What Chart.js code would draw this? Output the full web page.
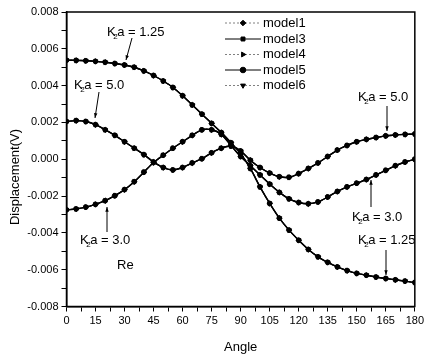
<!DOCTYPE html>
<html>
<head>
<meta charset="utf-8">
<script src="https://cdn.jsdelivr.net/npm/chart.js@4.4.0/dist/chart.umd.min.js"></script>
<style>
  html, body { margin: 0; padding: 0; background: #fff; }
  #wrap { width: 427px; height: 358px; }
</style>
</head>
<body>
<div id="wrap"><canvas id="dispChart" width="427" height="358"></canvas></div>
<script>
// Angle (deg) and displacement (V)
const angles = [0, 5, 10, 15, 20, 25, 30, 35, 40, 45, 50, 55, 60, 65, 70, 75, 80, 85, 90,
  95, 100, 105, 110, 115, 120, 125, 130, 135, 140, 145, 150, 155, 160, 165, 170, 175, 180];

const ka125 = [0.00538, 0.00537, 0.00535, 0.00532, 0.00527, 0.00520, 0.00512, 0.00500, 0.00480, 0.00455,
  0.00425, 0.00390, 0.00345, 0.00295, 0.00245, 0.00195, 0.00145, 0.00090, 0.00030,
  -0.00050, -0.00150, -0.00240, -0.00320, -0.00385, -0.00440, -0.00490, -0.00530, -0.00560,
  -0.00585, -0.00605, -0.00620, -0.00630, -0.00640, -0.00648, -0.00655, -0.00662, -0.00670];

const ka30 = [-0.00275, -0.00270, -0.00260, -0.00245, -0.00225, -0.00198, -0.00165, -0.00122, -0.00070, -0.00018,
  0.00022, 0.00060, 0.00095, 0.00130, 0.00160, 0.00160, 0.00135, 0.00075, 0.00015,
  -0.00035, -0.00085, -0.00135, -0.00180, -0.00215, -0.00235, -0.00242, -0.00232, -0.00205,
  -0.00175, -0.00150, -0.00130, -0.00110, -0.00085, -0.00060, -0.00035, -0.00015, 0.00000];

const ka50 = [0.00205, 0.00210, 0.00205, 0.00188, 0.00160, 0.00130, 0.00095, 0.00060, 0.00025, -0.00015,
  -0.00045, -0.00058, -0.00045, -0.00020, 0.00003, 0.00035, 0.00060, 0.00072, 0.00045,
  -0.00005, -0.00045, -0.00075, -0.00095, -0.00098, -0.00078, -0.00050, -0.00020, 0.00015,
  0.00050, 0.00075, 0.00095, 0.00108, 0.00118, 0.00127, 0.00132, 0.00135, 0.00137];

const models = ['model1', 'model3', 'model4', 'model5', 'model6'];
const xLabelStep = 15;   // labelled ticks, minor ticks between
const yLabelStep = 0.002;

const FONT = '"Liberation Sans", Arial, sans-serif';

// every model draws the three K2a curves, split by a gap
function curve(vals) {
  return angles.map((a, i) => ({ x: a, y: vals[i] }));
}
const gap = { x: 180, y: null };
const allCurves = [...curve(ka125), gap, ...curve(ka30), gap, ...curve(ka50)];

const styles = [
  { pointStyle: 'rectRot', rotation: 0, color: '#808080', dash: [2, 2], radius: 2.8 },
  { pointStyle: 'rect', rotation: 0, color: '#000', dash: [], radius: 2.4 },
  { pointStyle: 'triangle', rotation: 90, color: '#808080', dash: [2, 2], radius: 2.8 },
  { pointStyle: 'circle', rotation: 0, color: '#000', dash: [], radius: 2.4 },
  { pointStyle: 'triangle', rotation: 180, color: '#808080', dash: [2, 2], radius: 2.8 }
];

const datasets = models.map((name, i) => ({
  label: name,
  data: allCurves,
  borderColor: styles[i].color,
  borderDash: styles[i].dash,
  borderWidth: styles[i].dash.length ? 1 : 1.4,
  pointStyle: styles[i].pointStyle,
  pointRotation: styles[i].rotation,
  pointRadius: styles[i].radius,
  pointBackgroundColor: '#000',
  pointBorderColor: '#000',
  pointBorderWidth: 0.6,
  tension: 0.3,
  spanGaps: false,
  order: styles[i].dash.length ? 2 : 1
}));

// K2a labels with arrows (pixel positions in the picture)
const notes = [
  { text: '1.25', x: 107, y: 32, arrow: [132, 38, 126, 60] },
  { text: '5.0', x: 74, y: 85, arrow: [99, 92, 95, 118] },
  { text: '3.0', x: 80, y: 240, arrow: [107, 232, 107, 207] },
  { text: '5.0', x: 358, y: 97, arrow: [387, 106, 387, 131] },
  { text: '3.0', x: 352, y: 217, arrow: [371, 207, 371, 180] },
  { text: '1.25', x: 358, y: 240, arrow: [386, 250, 386, 275] }
];

function kLabel(ctx, x, y, val) {
  ctx.fillStyle = '#000';
  ctx.textAlign = 'left';
  ctx.textBaseline = 'middle';
  ctx.font = '13px ' + FONT;
  ctx.fillText('K', x, y);
  const kw = ctx.measureText('K').width;
  ctx.font = '8px ' + FONT;
  ctx.fillText('2', x + kw - 2.5, y + 5);
  ctx.font = '13px ' + FONT;
  ctx.fillText('a = ' + val, x + kw + 1.5, y);
}

function arrow(ctx, x1, y1, x2, y2) {
  ctx.strokeStyle = '#000';
  ctx.lineWidth = 1;
  ctx.setLineDash([]);
  ctx.beginPath();
  ctx.moveTo(x1, y1);
  ctx.lineTo(x2, y2);
  ctx.stroke();
  const ang = Math.atan2(y2 - y1, x2 - x1);
  ctx.beginPath();
  ctx.moveTo(x2, y2);
  ctx.lineTo(x2 - 5 * Math.cos(ang - 0.35), y2 - 5 * Math.sin(ang - 0.35));
  ctx.lineTo(x2 - 5 * Math.cos(ang + 0.35), y2 - 5 * Math.sin(ang + 0.35));
  ctx.closePath();
  ctx.fillStyle = '#000';
  ctx.fill();
}

const decor = {
  id: 'decor',
  afterDraw(chart) {
    const { ctx, chartArea: a } = chart;
    ctx.save();

    // frame
    ctx.strokeStyle = '#000';
    ctx.lineWidth = 1.5;
    ctx.strokeRect(a.left, a.top, a.right - a.left, a.bottom - a.top);

    // legend
    const rowY = [23, 39, 54.5, 70, 85.5];
    chart.data.datasets.forEach((ds, i) => {
      const y = rowY[i];
      ctx.beginPath();
      ctx.setLineDash(styles[i].dash);
      ctx.strokeStyle = styles[i].color;
      ctx.lineWidth = 1;
      ctx.moveTo(225, y);
      ctx.lineTo(261, y);
      ctx.stroke();
      ctx.setLineDash([]);
      ctx.fillStyle = '#000';
      ctx.strokeStyle = '#000';
      Chart.helpers.drawPoint(ctx, {
        pointStyle: styles[i].pointStyle,
        rotation: styles[i].rotation,
        radius: 2.8,
        borderWidth: 0.5
      }, 243, y);
      ctx.font = '13px ' + FONT;
      ctx.textAlign = 'left';
      ctx.textBaseline = 'middle';
      ctx.fillText(ds.label, 263, y);
    });

    // annotations
    notes.forEach(n => {
      kLabel(ctx, n.x, n.y, n.text);
      arrow(ctx, ...n.arrow);
    });
    ctx.font = '13px ' + FONT;
    ctx.textAlign = 'left';
    ctx.textBaseline = 'middle';
    ctx.fillText('Re', 117, 265);

    // axis titles
    ctx.textAlign = 'center';
    ctx.fillText('Angle', (a.left + a.right) / 2, 347);
    ctx.translate(15, 177);
    ctx.rotate(-Math.PI / 2);
    ctx.fillText('Displacement(V)', 0, 0);

    ctx.restore();
  }
};

new Chart(document.getElementById('dispChart').getContext('2d'), {
  type: 'line',
  data: { datasets: datasets },
  options: {
    responsive: false,
    animation: false,
    events: [],
    layout: { padding: { top: 12, right: 9, left: 0, bottom: 0 } },
    plugins: {
      legend: { display: false },
      tooltip: { enabled: false }
    },
    scales: {
      x: {
        type: 'linear',
        min: 0,
        max: 180,
        afterFit: s => { s.height = 51.5; },
        border: { color: '#000', width: 1.5 },
        grid: { drawOnChartArea: false, drawTicks: true, tickLength: 5, color: '#000' },
        ticks: {
          stepSize: xLabelStep / 2,
          autoSkip: false,
          maxRotation: 0,
          padding: 3,
          color: '#000',
          font: { family: FONT, size: 11 },
          callback: v => (Math.round(v * 2) % (xLabelStep * 2) === 0 ? v : '')
        }
      },
      y: {
        min: -0.008,
        max: 0.008,
        afterFit: s => { s.width = 66.5; },
        border: { color: '#000', width: 1.5 },
        grid: { drawOnChartArea: false, drawTicks: true, tickLength: 5, color: '#000' },
        ticks: {
          stepSize: yLabelStep / 2,
          autoSkip: false,
          padding: 3,
          color: '#000',
          font: { family: FONT, size: 11 },
          callback: v => (Math.round(v * 1000) % 2 === 0 ? v.toFixed(3) : '')
        }
      }
    }
  },
  plugins: [decor]
});
</script>
</body>
</html>
